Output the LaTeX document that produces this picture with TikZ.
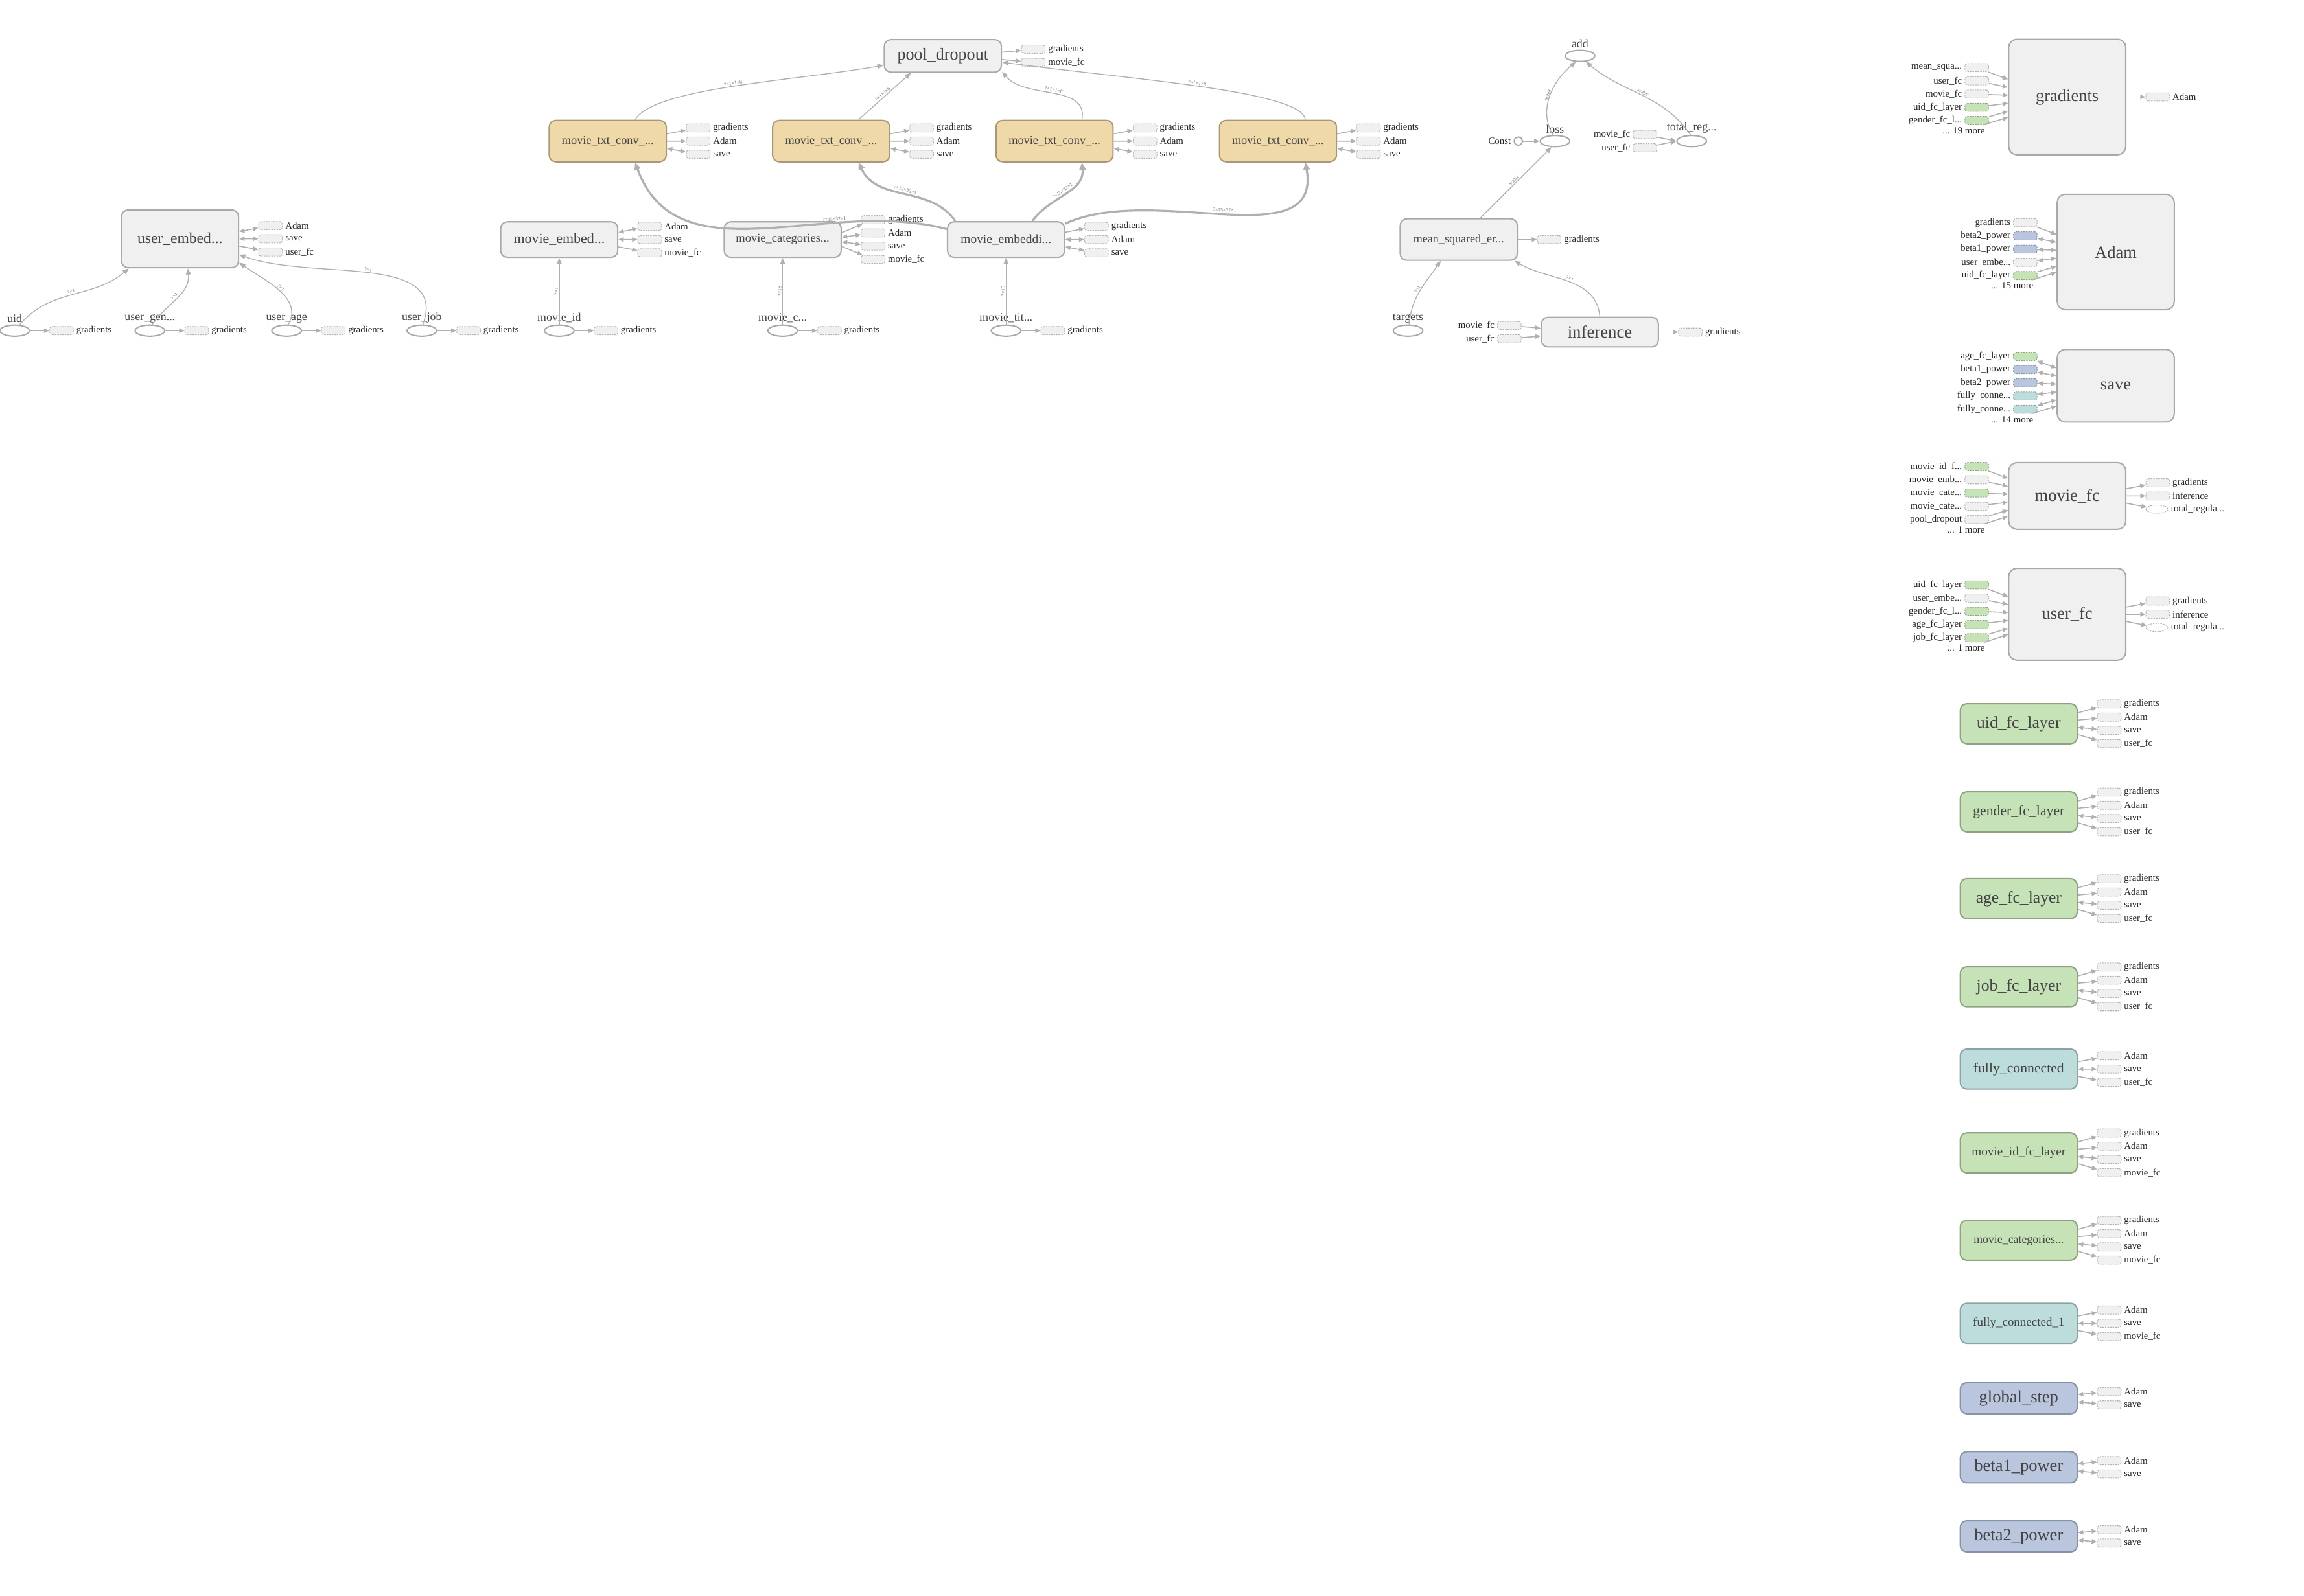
\documentclass[tikz,border=0pt]{standalone}
\usepackage{fontspec}
\setmainfont{Liberation Serif}
\usetikzlibrary{positioning, calc, arrows.meta, shapes.geometric}

\definecolor{opfill}{HTML}{F0F0F0}
\definecolor{opline}{HTML}{A9A9A9}
\definecolor{convfill}{HTML}{F0D9A8}
\definecolor{convline}{HTML}{A8987A}
\definecolor{fcfill}{HTML}{C6E2B7}
\definecolor{fcline}{HTML}{8EA282}
\definecolor{tealfill}{HTML}{BDDCDC}
\definecolor{tealline}{HTML}{8DA3A3}
\definecolor{bluefill}{HTML}{B9C6DE}
\definecolor{blueline}{HTML}{8792A8}
\definecolor{edgecol}{HTML}{B0B0B0}
\definecolor{stubline}{HTML}{B4B4B4}
\definecolor{txt}{HTML}{444444}

\newcommand{\fsz}[1]{\fontsize{#1}{#1}\selectfont}
\newcommand{\ddd}{...}

\tikzset{
  box/.style={draw=opline, fill=opfill, line width=0.9pt, rounded corners=4.5pt,
    minimum width=79pt, inner sep=0pt, text=txt},
  opbox/.style={box, minimum height=24pt},
  convbox/.style={box, draw=convline, fill=convfill, minimum height=28pt, font=\fsz{8}},
  fcbox/.style={box, draw=fcline, fill=fcfill, minimum height=27pt},
  tealbox/.style={box, draw=tealline, fill=tealfill, minimum height=27pt},
  bluebox/.style={box, draw=blueline, fill=bluefill, minimum height=21pt, font=\fsz{11.6}},
  bigbox/.style={box, rounded corners=5.5pt, minimum height=78pt, font=\fsz{11.6}},
  ph/.style={ellipse, draw=opline, line width=0.9pt, fill=white, minimum width=20pt,
    minimum height=7.5pt, inner sep=0pt},
  stub/.style={draw=stubline, dash pattern=on 1pt off 0.7pt, line width=0.45pt, fill=opfill,
    rounded corners=1.5pt, minimum width=16pt, minimum height=5.5pt, inner sep=0pt},
  gstub/.style={stub, draw=fcline, fill=fcfill},
  bstub/.style={stub, draw=blueline, fill=bluefill},
  tstub/.style={stub, draw=tealline, fill=tealfill},
  estub/.style={stub, ellipse, fill=white, minimum width=15pt},
  slab/.style={font=\fsz{6.5}, text=black!85, inner sep=1.6pt},
  plab/.style={font=\fsz{7.8}, text=txt, inner sep=1pt},
  elab/.style={font=\fsz{3.4}, text=black!55, sloped, above=0.2pt, inner sep=0.3pt},
  flow/.style={draw=edgecol, line width=0.6pt, -{Triangle[length=4.2pt,width=3.4pt]}},
  fatflow/.style={flow, line width=1.4pt, -{Triangle[length=5pt,width=4.4pt]}},
  stubedge/.style={draw=edgecol, line width=0.7pt},
  outarr/.style={-{Triangle[length=3.6pt,width=3pt]}},
  botharr/.style={{Triangle[length=3.6pt,width=3pt]}-{Triangle[length=3.6pt,width=3pt]}},
}

% stubs right of a node: node, convergence, list label/dy/tip/kind
\newcommand{\outstubs}[3]{%
  \foreach \lab/\dy/\tip/\kind [count=\k] in {#3} {
    \node[\kind, anchor=west, label={[slab]right:\lab}] (#1-o\k) at ($(#1.east)+(13,\dy)$) {};
    \draw[stubedge, \tip] ($(#1.east)!#2!(#1.east |- #1-o\k)$) -- (#1-o\k);
  }}
% stubs left of a node
\newcommand{\instubs}[3]{%
  \foreach \lab/\dy/\tip/\kind [count=\k] in {#3} {
    \node[\kind, anchor=east, label={[slab]left:\lab}] (#1-i\k) at ($(#1.west)+(-13,\dy)$) {};
    \draw[stubedge, \tip] (#1-i\k) -- ($(#1.west)!#2!(#1.west |- #1-i\k)$);
  }}
\newcommand{\morein}[2]{%
  \node[slab, anchor=east] (#1-more) at ($(#1.west)+(-14,23)$) {\ddd{} #2 more};
  \draw[stubedge, outarr] (#1-more) -- ($(#1.west)!0.6!(#1.west |- #1-more)$);}

\begin{document}
\begin{tikzpicture}[x=0.992pt, y=-0.992pt]
\path[use as bounding box, fill=white] (0,0) rectangle (1567.6,1085.7);

% user inputs
\node[opbox, minimum height=39pt, font=\fsz{10.3}] (ue) at (122.5,162.5) {user\_embed\ddd};
\outstubs{ue}{0.55}{Adam/-9/botharr/stub, save/0/botharr/stub, user\_fc/9/outarr/stub}
\foreach \nm/\txt/\px in {uid/uid/10, ugen/user\_gen\ddd/102, uage/user\_age/195, ujob/user\_job/287} {
  \node[ph, label={[plab]above:\txt}] (\nm) at (\px,225) {};
  \outstubs{\nm}{0}{gradients/0/outarr/stub}
}
\draw[flow] (uid.50) to[out=50,in=-140] node[elab]{?×1} (ue.-150);
\draw[flow] (ugen.70) to[out=55,in=-85] node[elab]{?×1} (ue.-75);
\draw[flow] (uage.75) to[out=60,in=-35] node[elab]{?×1} (ue.-22);
\draw[flow] (ujob.80) to[out=70,in=-20] node[elab]{?×1} (ue.-15);

% movie inputs
\node[opbox, font=\fsz{9.6}] (mem) at (380.5,163) {movie\_embed\ddd};
\node[opbox, font=\fsz{8.1}] (mcat) at (532.5,163) {movie\_categories\ddd};
\node[opbox, font=\fsz{8.5}] (memb) at (684.5,163) {movie\_embeddi\ddd};
\outstubs{mem}{0.55}{Adam/-9/botharr/stub, save/0/botharr/stub, movie\_fc/9/outarr/stub}
\outstubs{mcat}{0.35}{gradients/-13.5/outarr/stub, Adam/-4.5/botharr/stub, save/4.5/botharr/stub, movie\_fc/13.5/outarr/stub}
\outstubs{memb}{0.55}{gradients/-9/outarr/stub, Adam/0/botharr/stub, save/9/botharr/stub}
\foreach \nm/\txt/\px/\dst/\shp in {mid/movie\_id/380.5/mem/?×1, mc/movie\_c\ddd/532.5/mcat/?×18, mtit/movie\_tit\ddd/684.5/memb/?×15} {
  \node[ph, label={[plab]above:\txt}] (\nm) at (\px,225) {};
  \outstubs{\nm}{0}{gradients/0/outarr/stub}
  \draw[flow] (\nm) -- node[elab]{\shp} (\dst);
}

% text convolutions
\foreach \i/\px in {1/413.5, 2/565.5, 3/717.5, 4/869.5} {
  \node[convbox] (conv\i) at (\px,96) {movie\_txt\_conv\_\ddd};
  \outstubs{conv\i}{0.55}{gradients/-9/outarr/stub, Adam/0/outarr/stub, save/9/botharr/stub}
}
\node[opbox, minimum height=22pt, font=\fsz{11.4}] (pool) at (641.5,38) {pool\_dropout};
\outstubs{pool}{0.55}{gradients/-4.5/outarr/stub, movie\_fc/4.5/outarr/stub}

\draw[fatflow] (memb.170) to[out=165,in=-70] node[elab, pos=0.3]{?×15×32×1} (conv1.-38);
\draw[fatflow] (memb.160) to[out=125,in=-65] node[elab]{?×15×32×1} (conv2.-38);
\draw[fatflow] (memb.35) to[out=55,in=-85] node[elab]{?×15×32×1} (conv3.-38);
\draw[fatflow] (memb.15) to[out=25,in=-80] node[elab]{?×15×32×1} (conv4.-38);
\draw[flow] (conv1.38) .. controls +(60:25pt) and +(190:60pt) .. node[elab]{?×1×1×8} (pool.189);
\draw[flow] (conv2.38) -- node[elab]{?×1×1×8} (pool.-152);
\draw[flow] (conv3.38) to[out=80,in=-50] node[elab]{?×1×1×8} (pool.-15);
\draw[flow] (conv4.38) .. controls +(95:20pt) and +(-8:80pt) .. node[elab]{?×1×1×8} (pool.-6);

% loss
\node[ph, label={[plab]above:add}] (add) at (1075,38) {};
\node[ph, label={[plab]above:loss}] (loss) at (1058,96) {};
\node[circle, draw=opline, line width=0.9pt, minimum size=5.5pt, inner sep=0pt,
  label={[slab]left:Const}] (const) at (1033,96) {};
\node[ph, label={[plab]above:total\_reg\ddd}] (treg) at (1151,96) {};
\node[opbox, minimum height=28pt, font=\fsz{7.9}] (mse) at (992.5,163) {mean\_squared\_er\ddd};
\node[ph, label={[plab]above:targets}] (tgt) at (958,225) {};
\node[opbox, minimum height=20pt, font=\fsz{11.7}] (infer) at (1088.5,226) {inference};
\instubs{treg}{0}{movie\_fc/-4.5/outarr/stub, user\_fc/4.5/outarr/stub}
\instubs{infer}{0.6}{movie\_fc/-4.5/outarr/stub, user\_fc/4.5/outarr/stub}
\outstubs{infer}{0}{gradients/0/outarr/stub}
\outstubs{mse}{0}{gradients/0/outarr/stub}
\draw[stubedge, outarr] (const) -- (loss);
\draw[flow] (tgt.80) to[out=85,in=-125] node[elab]{?×1} (mse.-130);
\draw[flow] (infer.north) to[out=95,in=-30] node[elab]{?×1} (mse.-21);
\draw[flow] (mse.45) -- node[elab]{scalar} (loss.-120);
\draw[flow] (loss.110) to[out=120,in=-140] node[elab]{scalar} (add.-125);
\draw[flow] (treg.100) to[out=125,in=-40] node[elab]{scalar} (add.-45);

% training and summary nodes
\node[bigbox] (grad) at (1406.5,66) {gradients};
\node[bigbox] (adam) at (1439.5,171.5) {Adam};
\node[bigbox, minimum height=49pt] (save) at (1439.5,262.5) {save};
\node[bigbox, minimum height=45pt] (mfc) at (1406.5,337.5) {movie\_fc};
\node[bigbox, minimum height=62pt] (ufc) at (1406.5,418) {user\_fc};
\instubs{grad}{0.6}{mean\_squa\ddd/-20/outarr/stub, user\_fc/-11/outarr/stub, movie\_fc/-2/outarr/stub, uid\_fc\_layer/7/outarr/gstub, gender\_fc\_l\ddd/16/outarr/gstub}
\morein{grad}{19}
\outstubs{grad}{0}{Adam/0/outarr/stub}
\instubs{adam}{0.6}{gradients/-20/outarr/stub, beta2\_power/-11/botharr/bstub, beta1\_power/-2/botharr/bstub, user\_embe\ddd/7/botharr/stub, uid\_fc\_layer/16/outarr/gstub}
\morein{adam}{15}
\instubs{save}{0.6}{age\_fc\_layer/-20/botharr/gstub, beta1\_power/-11/botharr/bstub, beta2\_power/-2/botharr/bstub, fully\_conne\ddd/7/botharr/tstub, fully\_conne\ddd/16/botharr/tstub}
\morein{save}{14}
\instubs{mfc}{0.6}{movie\_id\_f\ddd/-20/outarr/gstub, movie\_emb\ddd/-11/outarr/stub, movie\_cate\ddd/-2/outarr/gstub, movie\_cate\ddd/7/outarr/stub, pool\_dropout/16/outarr/stub}
\morein{mfc}{1}
\outstubs{mfc}{0.55}{gradients/-9/outarr/stub, inference/0/outarr/stub, total\_regula\ddd/9/outarr/estub}
\instubs{ufc}{0.6}{uid\_fc\_layer/-20/outarr/gstub, user\_embe\ddd/-11/outarr/stub, gender\_fc\_l\ddd/-2/outarr/gstub, age\_fc\_layer/7/outarr/gstub, job\_fc\_layer/16/outarr/gstub}
\morein{ufc}{1}
\outstubs{ufc}{0.55}{gradients/-9/outarr/stub, inference/0/outarr/stub, total\_regula\ddd/9/outarr/estub}

% layer variables
\foreach \nm/\txt/\py/\sz/\dest in {uidfc/uid\_fc\_layer/492.5/11.2/user\_fc, gendfc/gender\_fc\_layer/552.5/9.5/user\_fc, agefc/age\_fc\_layer/611.5/11.2/user\_fc, jobfc/job\_fc\_layer/671.5/11.3/user\_fc, midfc/movie\_id\_fc\_layer/784.5/8.4/movie\_fc, mcatfc/movie\_categories\ddd/844/7.8/movie\_fc} {
  \node[fcbox, font=\fsz{\sz}] (\nm) at (1373.5,\py) {\txt};
  \outstubs{\nm}{0.55}{gradients/-13.5/outarr/stub, Adam/-4.5/outarr/stub, save/4.5/botharr/stub, \dest/13.5/outarr/stub}
}
\foreach \nm/\txt/\py/\sz/\dest in {fc0/fully\_connected/727.5/9.5/user\_fc, fc1/fully\_connected\_1/900.5/8.3/movie\_fc} {
  \node[tealbox, font=\fsz{\sz}] (\nm) at (1373.5,\py) {\txt};
  \outstubs{\nm}{0.55}{Adam/-9/outarr/stub, save/0/botharr/stub, \dest/9/outarr/stub}
}
\foreach \nm/\txt/\py in {gstep/global\_step/951.5, bone/beta1\_power/998.5, btwo/beta2\_power/1045.5} {
  \node[bluebox] (\nm) at (1373.5,\py) {\txt};
  \outstubs{\nm}{0.55}{Adam/-4.5/botharr/stub, save/4.5/botharr/stub}
}
\end{tikzpicture}
\end{document}
